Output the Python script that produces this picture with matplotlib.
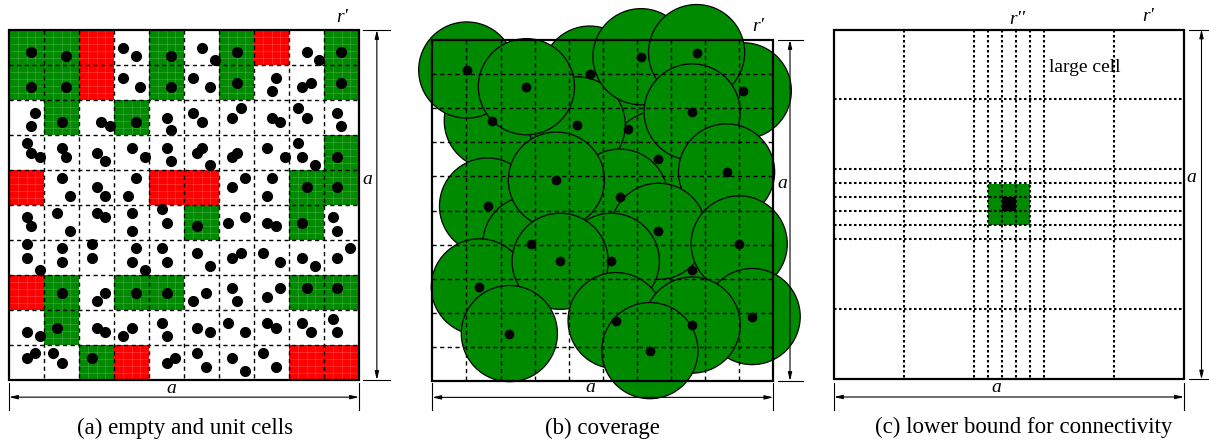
import matplotlib.pyplot as plt
from matplotlib.patches import Rectangle, Circle
from matplotlib.collections import LineCollection

W, H = 1209, 443
plt.rcParams['font.family'] = ['Liberation Serif', 'DejaVu Serif']
plt.rcParams['hatch.color'] = '#45a845'
plt.rcParams['hatch.linewidth'] = 0.6

GREEN = '#008a00'
RED = '#ff0000'

# (a) cell state per row, top row first: G = unit cell, R = empty cell, W = other
cell_states = [
    "GGRWGWGRWG",
    "GGRWGWGWWG",
    "WGWGWWWWWW",
    "WWWWWWWWWG",
    "RWWWRRWWGG",
    "WWWWWGWWGW",
    "WWWWWWWWWW",
    "RGWGGWWWGG",
    "WGWWWWWWWW",
    "WWGRWWWWRR",
]

# (a) node positions in cell units (x to the right, y downwards)
nodes_a = [
    (0.63, 0.62), (1.63, 0.74), (3.26, 0.50), (3.63, 0.74), (4.63, 0.74),
    (5.50, 0.50), (5.89, 0.87), (6.50, 0.62), (8.50, 0.62), (8.87, 0.87), (9.49, 0.62),
    (0.63, 1.62), (1.63, 1.62), (3.26, 1.36), (3.75, 1.62), (4.63, 1.62),
    (5.25, 1.36), (5.74, 1.62), (6.50, 1.50), (7.63, 1.36), (7.50, 1.74),
    (8.37, 1.62), (8.62, 1.50), (9.49, 1.50),
    (0.75, 2.36), (0.63, 2.74), (1.50, 2.62), (2.63, 2.62), (2.88, 2.74),
    (3.63, 2.62), (4.50, 2.50), (4.63, 2.86), (5.25, 2.36), (5.50, 2.62),
    (6.38, 2.50), (6.63, 2.24), (7.50, 2.50), (7.75, 2.62), (8.25, 2.24),
    (8.50, 2.50), (9.38, 2.36), (9.49, 2.74),
    (0.50, 3.24), (0.63, 3.50), (0.88, 3.62), (1.50, 3.36), (1.63, 3.62),
    (2.50, 3.50), (2.75, 3.74), (3.50, 3.36), (3.88, 3.62), (4.50, 3.36),
    (4.63, 3.74), (5.37, 3.50), (5.50, 3.36), (5.74, 3.87), (6.38, 3.62),
    (6.50, 3.50), (7.38, 3.36), (7.89, 3.62), (8.25, 3.24), (8.37, 3.62),
    (8.74, 3.87), (9.38, 3.62),
    (1.50, 4.24), (1.74, 4.73), (2.50, 4.48), (2.75, 4.73), (3.63, 4.24),
    (3.39, 4.73), (6.38, 4.48), (6.74, 4.24), (7.50, 4.24), (7.38, 4.73),
    (8.50, 4.48), (9.38, 4.48),
    (0.50, 5.35), (0.63, 5.60), (1.38, 5.24), (1.74, 5.74), (2.50, 5.24),
    (2.75, 5.35), (3.50, 5.24), (3.50, 5.74), (4.38, 5.12), (4.50, 5.50),
    (5.38, 5.60), (6.25, 5.50), (6.74, 5.35), (7.36, 5.50), (7.63, 5.60),
    (8.37, 5.50), (9.25, 5.35), (9.38, 5.74),
    (0.50, 6.11), (0.50, 6.50), (0.88, 6.86), (1.50, 6.24), (1.50, 6.62),
    (2.38, 6.11), (2.38, 6.50), (3.63, 6.24), (3.50, 6.62), (3.88, 6.86),
    (4.38, 6.24), (4.50, 6.62), (5.38, 6.36), (5.74, 6.74), (6.38, 6.50),
    (6.63, 6.36), (7.26, 6.36), (7.75, 6.62), (8.37, 6.50), (8.74, 6.74),
    (9.38, 6.50), (9.74, 6.24),
    (1.50, 7.50), (2.50, 7.73), (2.75, 7.50), (3.63, 7.50), (4.50, 7.50),
    (5.25, 7.73), (5.63, 7.50), (6.38, 7.36), (6.50, 7.73), (7.38, 7.62),
    (7.75, 7.36), (8.50, 7.36), (9.38, 7.36),
    (0.50, 8.62), (0.88, 8.74), (1.38, 8.50), (2.50, 8.50), (2.75, 8.62),
    (3.50, 8.50), (3.26, 8.74), (4.38, 8.37), (4.50, 8.74), (5.38, 8.50),
    (5.74, 8.62), (6.25, 8.37), (6.74, 8.62), (7.38, 8.37), (7.63, 8.50),
    (8.37, 8.37), (8.62, 8.62), (9.25, 8.25), (9.38, 8.62),
    (0.50, 9.36), (0.75, 9.24), (1.26, 9.24), (1.50, 9.50), (2.38, 9.36),
    (4.50, 9.50), (4.75, 9.36), (5.38, 9.24), (5.63, 9.62), (6.38, 9.36),
    (6.74, 9.74), (7.26, 9.24), (7.63, 9.62),
]

# (b) sensor positions in cell units, listed in drawing order
nodes_b = [
    (4.62, 1.00), (5.75, 2.62), (6.62, 3.49), (1.76, 2.37), (1.01, 0.88),
    (9.12, 1.49), (4.25, 2.49), (6.12, 0.49), (7.75, 0.37), (2.76, 1.37),
    (7.62, 2.11), (1.62, 4.87), (8.63, 3.87), (2.89, 5.98), (7.62, 6.74),
    (5.50, 4.61), (6.63, 5.61), (9.00, 5.98), (9.38, 8.11), (1.38, 7.24),
    (5.25, 6.49), (3.64, 4.11), (3.75, 6.49), (5.39, 8.23), (7.62, 8.36),
    (2.26, 8.61), (6.38, 9.11),
]
sensing_radius = 1.41

# (c) grid lines in units of large cells
c_lines = [1, 2, 2.2, 2.4, 2.6, 2.8, 3, 4]
c_green = (2.2, 2.8)
c_center = (2.4, 2.6)

fig = plt.figure(figsize=(W / 100, H / 100), dpi=100)


def panel_axes(left, top, size, n, x0, x1):
    # box spans [left, left+size] x [top, top+size] pixels and n data units
    ax = fig.add_axes([x0 / W, 0, (x1 - x0) / W, 1])
    s = size / n
    ax.set_xlim((x0 - left) / s, (x1 - left) / s)
    ax.set_ylim((H - top) / s, -top / s)
    ax.axis('off')
    return ax


def textured(ax, x, y, w, h, color, nx=4, ny=5):
    ax.add_patch(Rectangle((x, y), w, h, facecolor=color, edgecolor='none', zorder=1))
    segs = [[(x + w * i / nx, y), (x + w * i / nx, y + h)] for i in range(1, nx)]
    segs += [[(x, y + h * j / ny), (x + w, y + h * j / ny)] for j in range(1, ny)]
    ax.add_collection(LineCollection(segs, colors='white', alpha=0.22, lw=0.5, zorder=1.5))


def dimension(ax, p0, p1, ticks, label, label_xy, fontsize=14):
    ax.annotate('', xy=p1, xytext=p0, annotation_clip=False,
                arrowprops=dict(arrowstyle='<|-|>,head_length=0.5,head_width=0.12',
                                lw=0.8, color='black', shrinkA=0, shrinkB=0))
    for (xs, ys) in ticks:
        ax.plot(xs, ys, color='black', lw=0.8, clip_on=False)
    ax.text(*label_xy, label, fontsize=fontsize, fontstyle='italic',
            ha='center', va='center')


def grid(ax, positions, extent, **kw):
    for p in positions:
        ax.plot([p, p], extent, color='black', zorder=3, **kw)
        ax.plot(extent, [p, p], color='black', zorder=3, **kw)


def box(ax, size):
    ax.add_patch(Rectangle((0, 0), size, size, fill=False, edgecolor='black',
                           lw=1.6, zorder=5))


# (a) empty and unit cells
ax = panel_axes(9, 30, 350, 10, 0, 405)
for r, row in enumerate(cell_states):
    for c, st in enumerate(row):
        if st == 'G':
            textured(ax, c, r, 1, 1, GREEN)
        elif st == 'R':
            textured(ax, c, r, 1, 1, RED)
grid(ax, range(1, 10), [0, 10], lw=1.0, dashes=(3, 2.5))
xs, ys = zip(*nodes_a)
ax.plot(xs, ys, 'o', color='black', ms=7, zorder=6)
box(ax, 10)
dimension(ax, (10.51, 0), (10.51, 10),
          [([10.11, 10.89], [0, 0]), ([10.11, 10.89], [10, 10])], 'a', (10.23, 4.26))
dimension(ax, (0, 10.49), (10, 10.49),
          [([0, 0], [10.08, 10.86]), ([10, 10], [10.08, 10.86])], 'a', (4.63, 10.23))
ax.text(9.51, -0.37, "r'", fontsize=14, fontstyle='italic', ha='center', va='center')
ax.text(5.03, 11.37, "(a) empty and unit cells", fontsize=16.5, ha='center', va='center')

# (b) coverage
ax = panel_axes(432.3, 40, 341, 10, 405, 815)
for (x, y) in nodes_b:
    ax.add_patch(Circle((x, y), sensing_radius, facecolor=GREEN, edgecolor='black',
                        lw=0.9, zorder=2, clip_on=False))
grid(ax, range(1, 10), [0, 10], lw=1.0, dashes=(3, 2.5))
xs, ys = zip(*nodes_b)
ax.plot(xs, ys, 'o', color='black', ms=6, zorder=6, clip_on=False)
box(ax, 10)
dimension(ax, (10.49, 0), (10.49, 10),
          [([10.13, 10.86], [0, 0]), ([10.13, 10.86], [10, 10])], 'a', (10.25, 4.22))
dimension(ax, (0, 10.48), (10, 10.48),
          [([0, 0], [10.06, 10.85]), ([10, 10], [10.06, 10.85])], 'a', (4.62, 10.2))
ax.text(9.55, -0.41, "r'", fontsize=14, fontstyle='italic', ha='center', va='center')
ax.text(4.98, 11.38, "(b) coverage", fontsize=16.5, ha='center', va='center')

# (c) lower bound for connectivity
ax = panel_axes(834, 29.5, 350, 5, 815, 1209)
g0, g1 = c_green
ax.add_patch(Rectangle((g0, g0), g1 - g0, g1 - g0, facecolor=GREEN, edgecolor='none',
                       hatch='\\\\\\', zorder=1))
k0, k1 = c_center
ax.add_patch(Rectangle((k0, k0), k1 - k0, k1 - k0, facecolor='black', edgecolor='none',
                       zorder=2))
grid(ax, c_lines, [0, 5], lw=1.5, dashes=(1.2, 1.2))
box(ax, 5)
dimension(ax, (5.25, 0), (5.25, 5),
          [([5.07, 5.40], [0, 0]), ([5.07, 5.40], [5, 5])], 'a', (5.11, 2.12))
dimension(ax, (0, 5.25), (5, 5.25),
          [([0, 0], [5.05, 5.44]), ([5, 5], [5.05, 5.44])], 'a', (2.32, 5.12))
ax.text(2.61, -0.14, "r''", fontsize=14, fontstyle='italic', ha='center', va='center')
ax.text(4.49, -0.19, "r'", fontsize=14, fontstyle='italic', ha='center', va='center')
ax.text(3.58, 0.55, "large cell", fontsize=14, ha='center', va='center')
ax.text(2.71, 5.69, "(c) lower bound for connectivity", fontsize=16.5,
        ha='center', va='center')

fig.savefig('out.png', dpi=100)
